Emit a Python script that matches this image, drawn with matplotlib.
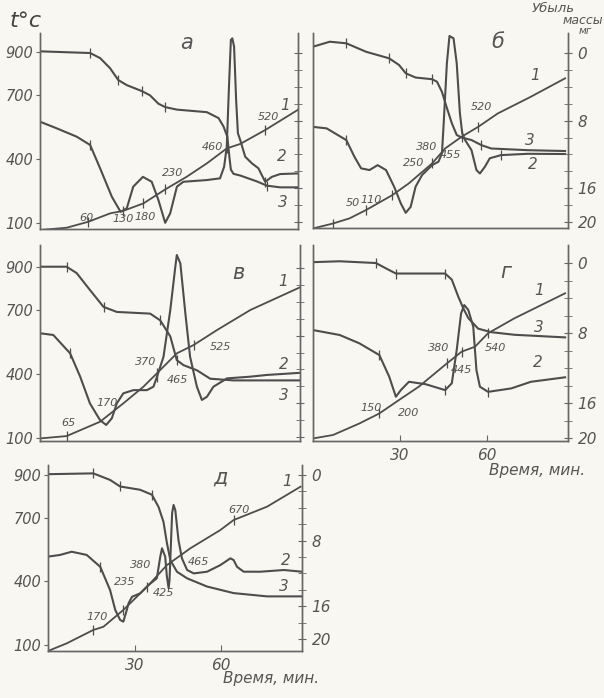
import matplotlib.pyplot as plt

# ---- panel а ----
t1_a = [0, 9.1, 16.5, 23.9, 28.4, 35.3, 42.7, 50.1, 56.9, 63.7, 68.3, 76.8, 87.9]
T1_a = [67, 78, 106, 145, 157, 192, 257, 317, 379, 449, 470, 535, 629]
t2_a = [0, 5.7, 12.5, 17.1, 20.5, 24.5, 27.5, 29.6, 31.8, 35.1, 38.1, 40.4, 42.7, 44.4, 46.7, 48.9, 56.9,
        61.4, 62.8, 63.7, 64.5, 65.1, 65.6, 66.2, 66.9, 67.5, 68.3, 70.0, 72.3, 74.5, 76.8, 79.1, 81.9, 88]
v2_a = [574, 543, 504, 465, 356, 223, 152, 169, 270, 316, 293, 207, 101, 145, 270, 293, 301,
        309, 363, 457, 754, 956, 964, 925, 675, 520, 488, 410, 379, 356, 293, 316, 329, 332]
t3_a = [0, 17.1, 20.5, 23.9, 26.7, 29.6, 34.7, 37.5, 40.4, 42.7, 46.7, 56.9, 60.9, 62.6, 63.9, 64.6,
        65.1, 66.0, 68.3, 74.0, 77.4, 81.9, 88]
m3_a = [-0.2, 0.0, 0.6, 1.8, 3.2, 3.8, 4.5, 5.0, 6.0, 6.4, 6.7, 7.0, 7.7, 8.7, 9.9, 12.3,
        13.8, 14.3, 14.5, 15.2, 15.7, 15.9, 15.9]
notes_a = [("60", 16, 122), ("130", 28.4, 118), ("180", 36, 130), ("230", 45.4, 334),
           ("460", 59, 456), ("520", 77.8, 596)]

# ---- panel б ----
t1_b = [0, 6.9, 12.6, 18.3, 27.4, 33.1, 41.1, 45.6, 51.3, 57.0, 63.8, 75.2, 87]
T1_b = [75, 98, 122, 161, 231, 286, 379, 449, 504, 550, 613, 691, 777]
t2_b = [0, 4.7, 11.5, 14.3, 16.6, 19.5, 22.3, 25.2, 28.0, 30.3, 32.0, 33.7, 35.4, 37.6, 41.1, 43.3,
        44.5, 45.1, 46.2, 47.1, 48.5, 49.6, 50.7, 51.5, 52.5, 54.7, 56.4, 57.6, 59.3, 61.0, 64.9, 74.1, 87]
v2_b = [550, 543, 488, 410, 356, 348, 371, 348, 270, 192, 148, 176, 270, 324, 371, 387,
        426, 566, 847, 975, 964, 847, 613, 520, 488, 441, 348, 332, 363, 403, 418, 424, 423]
t3_b = [0, 5.8, 11.5, 18.3, 26.3, 29.7, 32.0, 35.4, 41.1, 42.8, 44.5, 46.2, 47.9, 49.6, 51.3, 54.7,
        58.1, 61.5, 74.1, 87]
m3_b = [-0.75, -1.34, -1.15, -0.15, 0.63, 1.42, 2.4, 2.9, 3.1, 3.4, 4.6, 6.5, 8.3, 9.7, 10.0, 10.3,
        10.9, 11.3, 11.5, 11.6]
notes_b = [("50", 13.7, 193), ("110", 20, 210), ("250", 34.8, 381), ("380", 39.2, 455),
           ("455", 47.4, 418), ("520", 58, 643)]

# ---- panel в ----
t1_c = [0, 9.0, 20.3, 28.2, 35.0, 39.6, 46.3, 52.0, 59.9, 71.2, 88]
T1_c = [98, 109, 176, 262, 340, 403, 496, 535, 605, 699, 805]
t2_c = [0, 4.5, 10.2, 13.6, 16.9, 20.3, 22.4, 24.3, 26.0, 28.2, 31.6, 36.2, 38.4, 39.6, 41.8,
        44.1, 45.8, 46.3, 47.5, 49.2, 50.8, 53.1, 54.8, 56.5, 58.7, 63.3, 71.2, 76.8, 88]
v2_c = [590, 582, 496, 387, 262, 184, 161, 192, 262, 309, 324, 324, 340, 387, 480,
        699, 901, 956, 917, 683, 480, 340, 278, 293, 340, 379, 387, 395, 405]
t3_c = [0, 9.0, 12.4, 16.9, 21.5, 26.0, 37.3, 40.7, 44.1, 46.3, 48.6, 53.1, 57.6, 65.5, 88]
m3_c = [-0.15, -0.15, 0.6, 2.6, 4.6, 5.2, 5.4, 6.2, 8.1, 10.9, 11.5, 12.1, 13.1, 13.3, 13.3]
notes_c = [("65", 9.5, 170), ("170", 22.7, 264), ("370", 35.6, 455), ("465", 46.4, 371),
           ("525", 61, 526)]

# ---- panel г ----
t1_d = [0, 6.9, 16.0, 22.9, 29.7, 36.5, 46.2, 51.3, 55.9, 60.4, 69.5, 87]
T1_d = [98, 114, 168, 215, 278, 340, 449, 504, 527, 590, 660, 777]
t2_d = [0, 9.2, 16.0, 22.9, 26.3, 28.6, 30.3, 33.1, 38.8, 45.6, 47.9, 49.6, 51.1, 52.2, 53.6,
        55.3, 56.4, 57.6, 60.4, 68.4, 75.2, 87]
v2_d = [605, 582, 543, 488, 387, 293, 324, 363, 352, 324, 356, 512, 683, 722, 699,
        621, 418, 340, 316, 332, 363, 384]
t3_d = [0, 9.2, 21.7, 25.1, 28.6, 45.6, 47.9, 50.2, 51.9, 53.6, 57.0, 61.5, 69.5, 87]
m3_d = [-0.1, -0.2, 0.0, 0.6, 1.2, 1.2, 1.9, 3.9, 5.2, 6.3, 7.5, 7.9, 8.2, 8.5]
notes_d = [("150", 20, 240), ("200", 33.1, 217), ("380", 43.3, 521), ("445", 51.2, 418),
           ("540", 62.8, 521)]

# ---- panel д ----
t1_e = [0, 6.5, 15.7, 19.2, 26.1, 34.3, 41.2, 49.3, 59.7, 64.3, 75.9, 87.5]
T1_e = [72, 108, 171, 186, 265, 374, 476, 555, 641, 688, 751, 845]
t2_e = [0, 4.2, 8.2, 13.4, 18.1, 21.5, 23.3, 25.0, 26.1, 27.3, 27.9, 29.1, 31.9, 34.8, 37.7, 38.9,
        39.5, 40.6, 41.2, 41.8, 42.1, 42.6, 43.0, 43.5, 44.1, 45.2, 46.4, 48.2, 50.5, 55.1, 59.7,
        63.2, 64.3, 65.5, 67.8, 73.6, 81.7, 88]
v2_e = [516, 524, 539, 524, 468, 359, 265, 218, 210, 265, 296, 327, 343, 382, 414, 516,
        555, 516, 421, 367, 406, 579, 720, 759, 735, 594, 508, 453, 437, 445, 476,
        508, 500, 468, 445, 445, 453, 445]
t3_e = [0, 15.7, 21.5, 25.0, 31.9, 36.0, 38.3, 40.0, 41.2, 42.4, 44.7, 48.2, 55.1, 64.3, 75.9, 88]
m3_e = [-0.1, -0.2, 0.6, 1.4, 1.8, 2.4, 3.9, 5.7, 8.3, 10.4, 11.8, 12.6, 13.6, 14.4, 14.8, 14.8]
notes_e = [("170", 17, 232), ("235", 26.7, 396), ("380", 32, 476), ("425", 40, 345),
           ("465", 52, 491), ("670", 66, 735)]

temp_ticks = [900, 700, 400, 100]
mass_ticks = [0, 8, 16, 20]
time_ticks = [30, 60]

INK = '#4d4d4d'
FONT = ['DejaVu Sans']
W, H = 604, 698

fig = plt.figure(figsize=(W / 100, H / 100), dpi=100)
fig.patch.set_facecolor('#f8f7f1')


def px_axes(left, top, right, bottom):
    ax = fig.add_axes([left / W, 1 - bottom / H, (right - left) / W, (bottom - top) / H])
    ax.patch.set_alpha(0)
    return ax


def panel(box, tlims, mlims, c1, c2, c3, marks, letter, letter_pos, tags, notes,
          left_lab, right_lab, time_lab):
    ax = px_axes(*box)
    ax.set_xlim(0, 88)
    ax.set_ylim(*tlims)
    ax2 = ax.twinx()
    ax2.set_ylim(*mlims)
    ax2.patch.set_alpha(0)

    ax.plot(c1[0], c1[1], color=INK, lw=1.3, marker='|', ms=7, mew=0.9, markevery=marks[0])
    ax.plot(c2[0], c2[1], color=INK, lw=1.5, marker='|', ms=7, mew=0.9, markevery=marks[1])
    ax2.plot(c3[0], c3[1], color=INK, lw=1.5, marker='|', ms=7, mew=0.9, markevery=marks[2])

    for a in (ax, ax2):
        a.spines['top'].set_visible(False)
        for s in ('left', 'right', 'bottom'):
            a.spines[s].set_color('#666')
            a.spines[s].set_linewidth(1.0)

    if left_lab:
        ax.set_yticks(temp_ticks)
        ax.set_yticklabels([str(v) for v in temp_ticks])
    else:
        ax.set_yticks([])
    ax.tick_params(axis='y', direction='out', length=3, color='#666', labelsize=10.5,
                   labelcolor='#555', pad=2)

    ax2.set_yticks(range(0, 21, 2), minor=True)
    ax2.set_yticks(mass_ticks)
    ax2.set_yticklabels([str(v) for v in mass_ticks] if right_lab else [])
    ax2.tick_params(axis='y', which='both', direction='inout', length=6, color='#666',
                    labelsize=11, labelcolor='#555', pad=4)

    if time_lab:
        ax.set_xticks(time_ticks)
        ax.set_xticklabels([str(v) for v in time_ticks])
        ax.tick_params(axis='x', direction='in', length=4, color='#666', labelsize=11,
                       labelcolor='#555', pad=5)
        ax.text(0.88, -0.15, 'Время, мин.', transform=ax.transAxes, ha='center',
                va='center', fontsize=11, style='italic', color='#555', family=FONT)
    else:
        ax.set_xticks([])

    for lbl in ax.get_yticklabels() + ax2.get_yticklabels() + ax.get_xticklabels():
        lbl.set_fontstyle('italic')
        lbl.set_family(FONT)

    ax.text(letter_pos[0], letter_pos[1], letter, fontsize=15, style='italic',
            color='#555', ha='center', va='center', family=FONT)
    for txt, x, y in tags:
        ax.text(x, y, txt, fontsize=11, style='italic', color='#555', ha='center',
                va='center', family=FONT)
    for txt, x, y in notes:
        ax.text(x, y, txt, fontsize=8, style='italic', color='#555', ha='center',
                va='center', family=FONT)


panel((40, 33, 298, 229), (72, 989), (20.83, -2.37),
      (t1_a, T1_a), (t2_a, v2_a), (t3_a, m3_a),
      ([2, 4, 5, 6, 9, 11], [3, 30], [1, 4, 6, 9, 20]),
      'а', (50, 942), [("1", 83.6, 650), ("2", 82.6, 409), ("3", 83, 198)], notes_a,
      True, False, False)

panel((313, 33, 568, 228), (77, 989), (20.71, -2.37),
      (t1_b, T1_b), (t2_b, v2_b), (t3_b, m3_b),
      ([1, 3, 4, 6, 8, 9], [2, 30], [2, 4, 6, 8, 16]),
      'б', (63.8, 947), [("1", 76.8, 790), ("3", 75, 488), ("2", 75.8, 375)], notes_b,
      False, True, False)

panel((40, 245, 300, 441), (86, 1003), (20.47, -2.72),
      (t1_c, T1_c), (t2_c, v2_c), (t3_c, m3_c),
      ([1, 5, 7], [2, 13], [1, 4, 7, 9]),
      'в', (67.1, 872), [("1", 82.4, 830), ("2", 82.4, 445), ("3", 82.4, 300)], notes_c,
      True, False, False)

panel((313, 245, 568, 441), (86, 1003), (20.34, -2.06),
      (t1_d, T1_d), (t2_d, v2_d), (t3_d, m3_d),
      ([3, 6, 7, 9], [3, 9, 18], [2, 4, 5]),
      'г', (66.6, 877), [("1", 78, 790), ("3", 78, 619), ("2", 77.5, 455)], notes_d,
      False, True, True)

panel((48, 465, 302, 651), (72, 947), (21.46, -1.22),
      (t1_e, T1_e), (t2_e, v2_e), (t3_e, m3_e),
      ([2, 4, 5, 9], [4], [1, 3, 5]),
      'д', (59.7, 888), [("1", 83, 870), ("2", 82.3, 500), ("3", 81.6, 374)], notes_e,
      True, True, True)

fig.text(10 / W, 1 - 21 / H, 't°c', fontsize=16, style='italic', color='#444',
         ha='left', va='center', family=FONT)
fig.text(553 / W, 1 - 8 / H, 'Убыль', fontsize=9.5, style='italic', color='#555',
         ha='center', va='center', family=FONT)
fig.text(583 / W, 1 - 20 / H, 'массы', fontsize=9, style='italic', color='#555',
         ha='center', va='center', family=FONT)
fig.text(585 / W, 1 - 31 / H, 'мг', fontsize=7.5, style='italic', color='#555',
         ha='center', va='center', family=FONT)

fig.savefig('out.png', dpi=100, facecolor=fig.get_facecolor())
